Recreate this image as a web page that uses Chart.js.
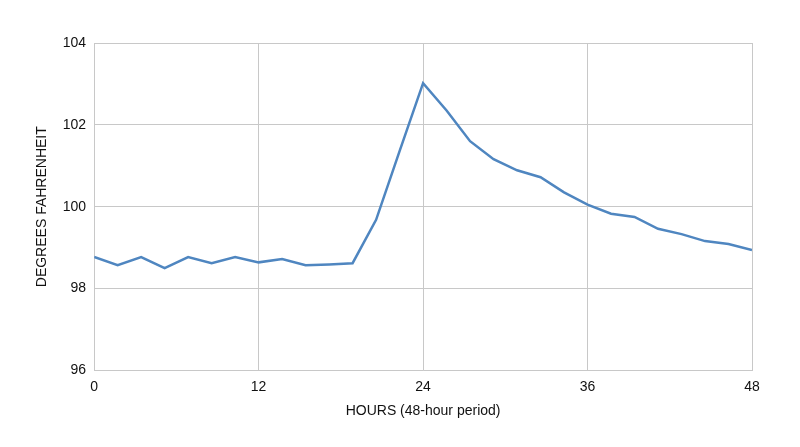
<!DOCTYPE html>
<html><head><meta charset="utf-8">
<script src="https://cdn.jsdelivr.net/npm/chart.js@4"></script>
<style>html,body{margin:0;padding:0;background:#fff}#w{width:800px;height:447px}</style>
</head><body><div id="w"><canvas id="c"></canvas></div>
<script>
const temps = [98.77,98.57,98.77,98.5,98.77,98.62,98.77,98.64,98.72,98.57,98.59,98.62,99.68,101.36,103.02,102.35,101.6,101.16,100.89,100.72,100.35,100.05,99.83,99.75,99.46,99.33,99.16,99.09,98.94];
const hours = temps.map((_, i) => i * 48 / (temps.length - 1));
const xTicks = [0, 12, 24, 36, 48];
const yTicks = [96, 98, 100, 102, 104];
new Chart(document.getElementById('c'), {
  type: 'line',
  data: { datasets: [{ data: hours.map((h, i) => ({x: h, y: temps[i]})), borderColor: '#4f86c0', borderWidth: 2.5, pointRadius: 0, tension: 0, fill: false }] },
  options: {
    responsive: true, maintainAspectRatio: false, animation: false,
    layout: { padding: { left: 30, right: 48, top: 43, bottom: 23 } },
    plugins: { legend: { display: false }, tooltip: { enabled: false } },
    scales: {
      x: { type: 'linear', min: 0, max: 48, afterBuildTicks: a => { a.ticks = xTicks.map(v => ({value: v})); },
        grid: { color: '#c8c8c8', drawTicks: false }, border: { color: '#c8c8c8' },
        ticks: { color: '#111', font: { family: 'Liberation Sans', size: 14 }, padding: 8 },
        title: { display: true, text: 'HOURS (48-hour period)', color: '#111', font: { family: 'Liberation Sans', size: 14 }, padding: { top: 0 } } },
      y: { min: 96, max: 104, afterBuildTicks: a => { a.ticks = yTicks.map(v => ({value: v})); },
        grid: { color: '#c8c8c8', drawTicks: false }, border: { color: '#c8c8c8' },
        ticks: { color: '#111', font: { family: 'Liberation Sans', size: 14 }, padding: 8 },
        title: { display: true, text: 'DEGREES FAHRENHEIT', color: '#111', font: { family: 'Liberation Sans', size: 14 }, padding: { bottom: 4 } } }
    }
  }
});
</script></body></html>
